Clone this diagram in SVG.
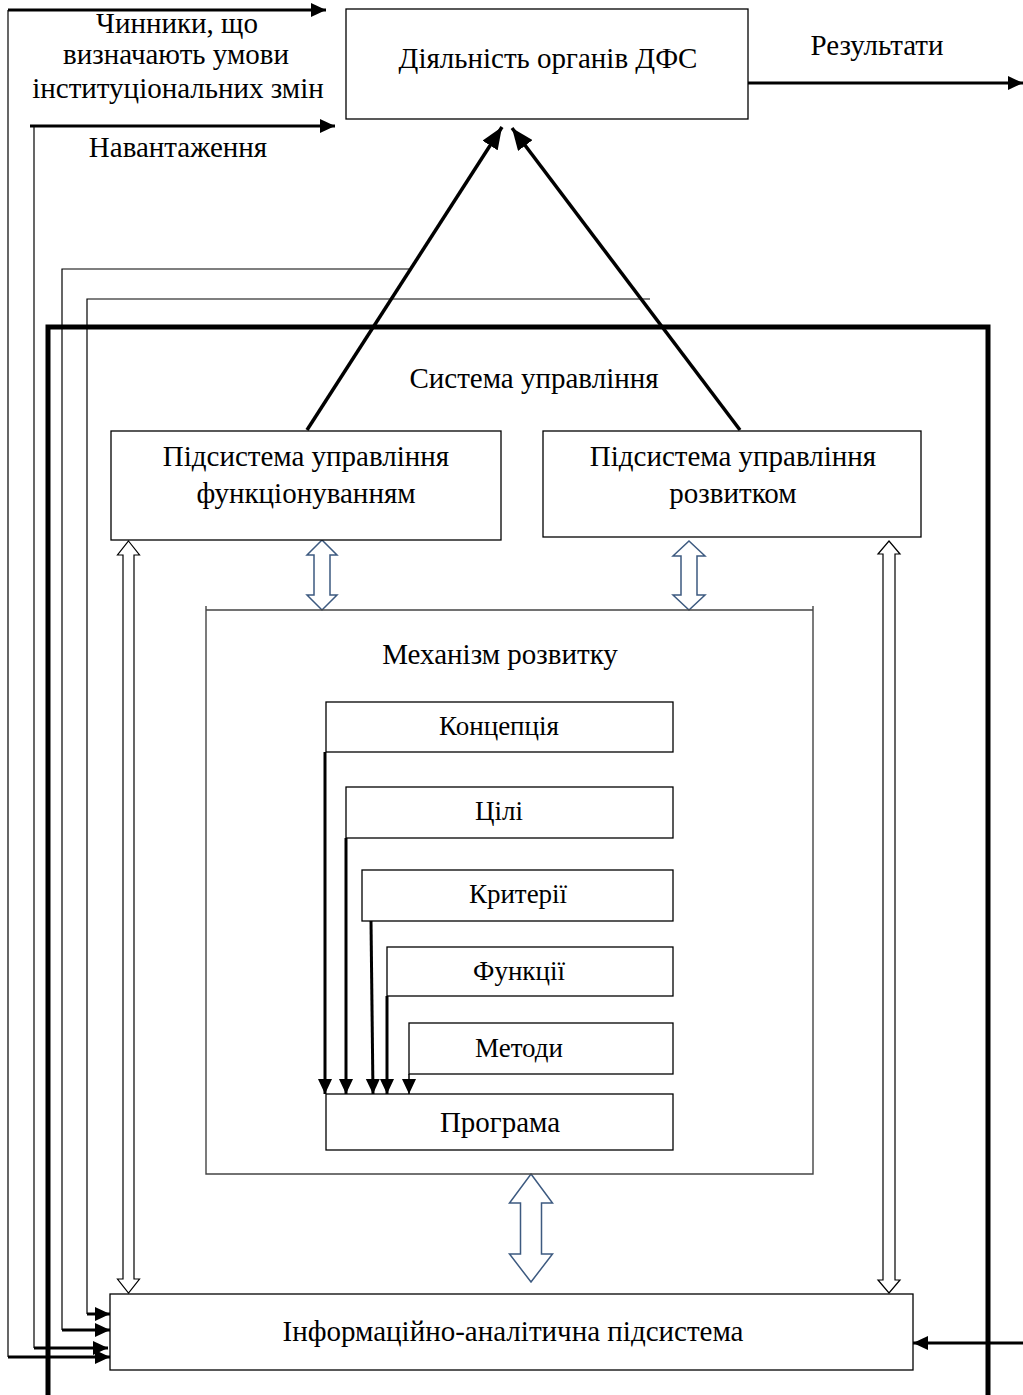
<svg xmlns="http://www.w3.org/2000/svg" width="1023" height="1395" viewBox="0 0 1023 1395">
<style>
text{font-family:"Liberation Serif","Times New Roman",serif;font-size:29px;fill:#000;text-anchor:middle}
text.s{font-size:27px}
.box{fill:#fff;stroke:#000;stroke-width:1.3}
.thin{fill:none;stroke:#000;stroke-width:1.2}
.thick{fill:none;stroke:#000;stroke-width:3}
.hollow{fill:#fff;stroke:#000;stroke-width:1.2}
.hollowb{fill:#fff;stroke:#3d5a80;stroke-width:1.5}
</style>
<defs>
<marker id="ah" markerUnits="userSpaceOnUse" markerWidth="15" markerHeight="15" refX="15" refY="7" orient="auto" viewBox="0 0 15 14"><path d="M0,0 L15,7 L0,14 z" fill="#000"/></marker>
<marker id="ahb" markerUnits="userSpaceOnUse" markerWidth="22" markerHeight="18" refX="22" refY="9" orient="auto" viewBox="0 0 22 18"><path d="M0,0 L22,9 L0,18 z" fill="#000"/></marker>
</defs>
<g id="frame"><path d="M48,1395 V327 H988 V1395" fill="none" stroke="#000" stroke-width="5"/></g>
<g id="connectors">
<path class="thin" d="M8,1357 V10"/>
<path class="thick" d="M8,10 H326" marker-end="url(#ah)"/>
<path class="thin" d="M34,1348 V126"/>
<path class="thick" d="M30,126 H335" marker-end="url(#ah)"/>
<path class="thin" d="M62,1330 V269 H409"/>
<path class="thin" d="M87,1314 V299 H650"/>
<path class="thick" d="M8,1357 H110" marker-end="url(#ah)"/>
<path class="thick" d="M34,1348 H108" marker-end="url(#ah)"/>
<path class="thick" d="M62,1330 H110" marker-end="url(#ah)"/>
<path class="thick" d="M87,1314 H110" marker-end="url(#ah)"/>
<path class="thick" d="M748,83 H1023" marker-end="url(#ah)"/>
<path class="thick" d="M1023,1343 H913" marker-end="url(#ah)"/>
<path d="M307,430 L502,127" fill="none" stroke="#000" stroke-width="3.5" marker-end="url(#ahb)"/>
<path d="M740,430 L512,128" fill="none" stroke="#000" stroke-width="3.5" marker-end="url(#ahb)"/>
<path class="thick" d="M325,752 V1094" marker-end="url(#ah)"/>
<path class="thick" d="M346,838 V1094" marker-end="url(#ah)"/>
<path class="thick" d="M371,921 L373,1094" marker-end="url(#ah)"/>
<path class="thick" d="M387,996 V1094" marker-end="url(#ah)"/>
<path d="M409,1074 V1094" fill="none" stroke="#000" stroke-width="1.5" marker-end="url(#ah)"/>
<polygon class="hollow" points="128.5,541 139.5,555 134,555 134,1279 139.5,1279 128.5,1293 117.5,1279 123,1279 123,555 117.5,555"/>
<polygon class="hollow" points="889,541 900,554 895,554 895,1280 900,1280 889,1293 878,1280 883,1280 883,554 878,554"/>
<polygon class="hollowb" points="322,540 337,555 330,555 330,595 337,595 322,610 307,595 314,595 314,555 307,555"/>
<polygon class="hollowb" points="689,541 705,556 697,556 697,595 705,595 689,610 673,595 681,595 681,556 673,556"/>
<polygon class="hollowb" points="531,1174 552.5,1203 541.5,1203 541.5,1254 552.5,1254 531,1282 509.5,1254 520.5,1254 520.5,1203 509.5,1203"/>
</g>
<g id="n-dfs"><rect class="box" x="346" y="9" width="402" height="110"/><text x="548" y="68">Діяльність органів ДФС</text></g>
<g id="l-factors"><text x="177" y="33">Чинники, що</text><text x="176" y="64">визначають умови</text><text x="178" y="98">інституціональних змін</text></g>
<g id="l-load"><text x="178" y="157">Навантаження</text></g>
<g id="l-results"><text x="877" y="55">Результати</text></g>
<g id="l-system"><text x="534" y="388">Система управління</text></g>
<g id="n-func"><rect class="box" x="111" y="431" width="390" height="109"/><text x="306" y="466">Підсистема управління</text><text x="306" y="503">функціонуванням</text></g>
<g id="n-dev"><rect class="box" x="543" y="431" width="378" height="106"/><text x="733" y="466">Підсистема управління</text><text x="733" y="503">розвитком</text></g>
<g id="n-mech"><path d="M206,606 V1174 H813 V606 M206,610 H813" fill="none" stroke="#444" stroke-width="1.4"/><text x="500" y="664">Механізм розвитку</text></g>
<g id="n-concept"><rect class="box" x="326" y="702" width="347" height="50"/><text class="s" x="499" y="735">Концепція</text></g>
<g id="n-goals"><rect class="box" x="346" y="787" width="327" height="51"/><text class="s" x="499" y="820">Цілі</text></g>
<g id="n-criteria"><rect class="box" x="362" y="870" width="311" height="51"/><text class="s" x="518" y="903">Критерії</text></g>
<g id="n-functions"><rect class="box" x="387" y="947" width="286" height="49"/><text class="s" x="519" y="980">Функції</text></g>
<g id="n-methods"><rect class="box" x="409" y="1023" width="264" height="51"/><text class="s" x="519" y="1057">Методи</text></g>
<g id="n-program"><rect class="box" x="326" y="1094" width="347" height="56"/><text x="500" y="1132">Програма</text></g>
<g id="n-info"><rect class="box" x="110" y="1294" width="803" height="76"/><text x="513" y="1341">Інформаційно-аналітична підсистема</text></g>
</svg>
